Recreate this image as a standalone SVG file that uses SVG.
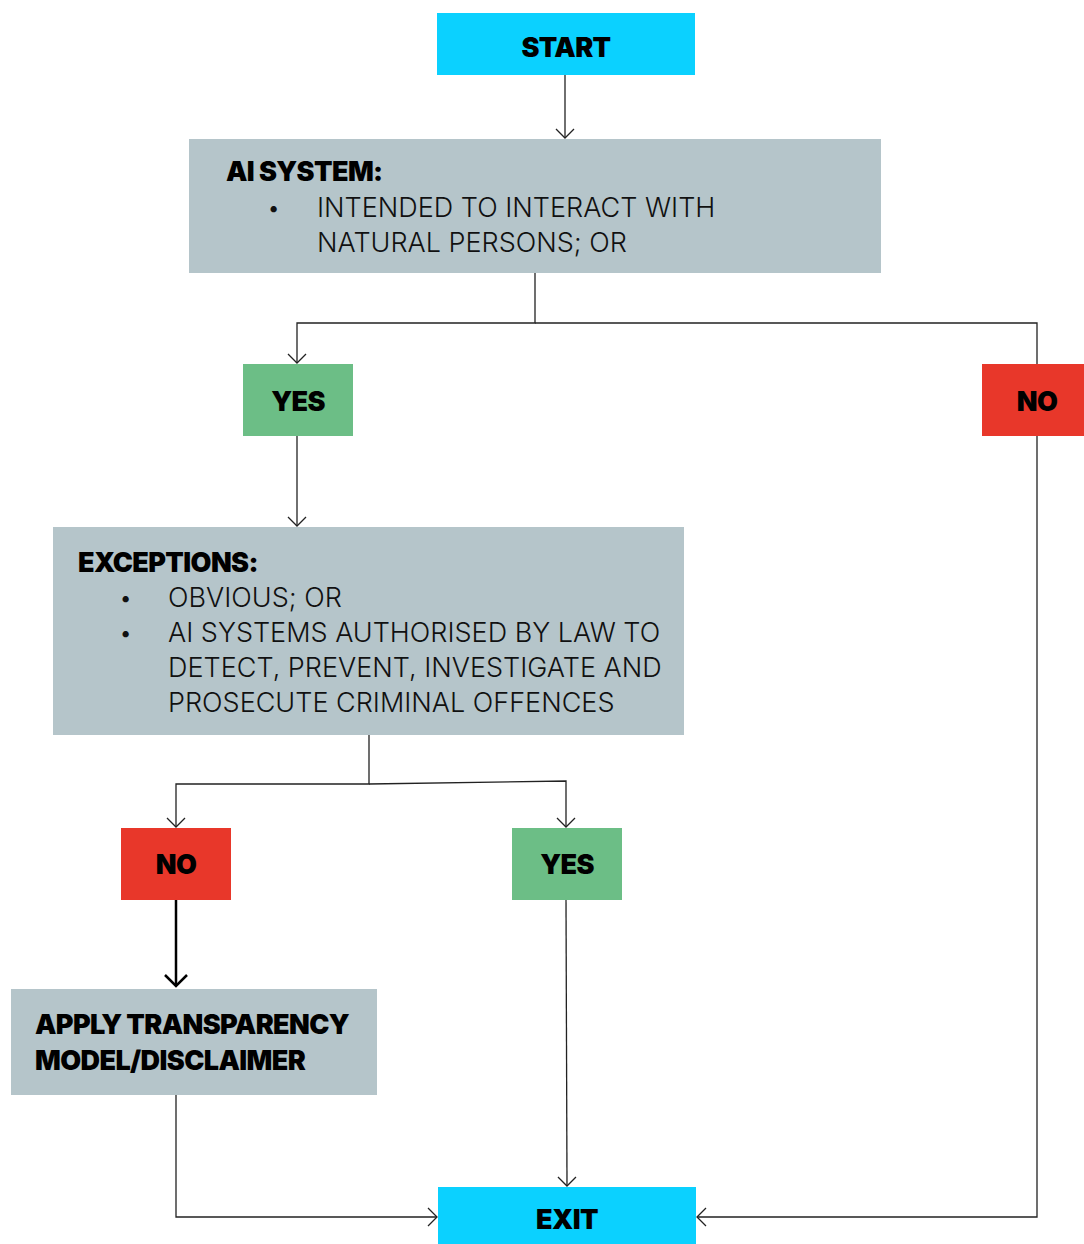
<svg xmlns="http://www.w3.org/2000/svg" width="1084" height="1244" viewBox="0 0 1084 1244">
<style>
.term{fill:#0BD1FF}
.info{fill:#B5C5CA}
.yes{fill:#6CBE86}
.no{fill:#E8372A}
.b{font-family:Inter,"Liberation Sans",sans-serif;font-weight:900;fill:#000;font-size:27px;letter-spacing:-0.6px}
.r{font-family:Inter,"Liberation Sans",sans-serif;font-weight:300;fill:#111;font-size:27px}
.d{font-family:Inter,"Liberation Sans",sans-serif;fill:#111;font-size:20px}
.c{fill:none;stroke:#222;stroke-width:1.3}
.t{fill:none;stroke:#000;stroke-width:2.5}
</style>
<defs>
<marker id="ah" markerWidth="20" markerHeight="20" refX="10" refY="10" orient="auto" markerUnits="userSpaceOnUse">
<path d="M1,1 L10,10 L1,19" fill="none" stroke="#222" stroke-width="1.3"/>
</marker>
<marker id="ahb" markerWidth="26" markerHeight="26" refX="13" refY="13" orient="auto" markerUnits="userSpaceOnUse">
<path d="M2,2 L13,13 L2,24" fill="none" stroke="#000" stroke-width="2.5"/>
</marker>
</defs>
<rect width="1084" height="1244" fill="#fff"/>
<g id="connectors">
<path class="c" d="M565,75 V138" marker-end="url(#ah)"/>
<path class="c" d="M535,273 V323 H297 V363" marker-end="url(#ah)"/>
<path class="c" d="M535,323 H1037 V1217 H697" marker-end="url(#ah)"/>
<path class="c" d="M297,436 V526" marker-end="url(#ah)"/>
<path class="c" d="M369,735 V784 H176 V827" marker-end="url(#ah)"/>
<path class="c" d="M369,784 L566,781 V827" marker-end="url(#ah)"/>
<path class="t" d="M176,900 V986" marker-end="url(#ahb)"/>
<path class="c" d="M566,900 L567,1186" marker-end="url(#ah)"/>
<path class="c" d="M176,1095 V1217 H437" marker-end="url(#ah)"/>
</g>
<g id="start">
<rect class="term" x="437" y="13" width="258" height="62"/>
<text class="b" x="566" y="57" text-anchor="middle">START</text>
</g>
<g id="ai-system">
<rect class="info" x="189" y="139" width="692" height="134"/>
<text class="b" x="226" y="181">AI SYSTEM:</text>
<text class="d" x="268" y="215">•</text>
<text class="r" x="317" y="217">INTENDED TO INTERACT WITH</text>
<text class="r" x="317" y="252">NATURAL PERSONS; OR</text>
</g>
<g id="yes1">
<rect class="yes" x="243" y="364" width="110" height="72"/>
<text class="b" x="298" y="411" text-anchor="middle">YES</text>
</g>
<g id="no1">
<rect class="no" x="982" y="364" width="102" height="72"/>
<text class="b" x="1037" y="411" text-anchor="middle">NO</text>
</g>
<g id="exceptions">
<rect class="info" x="53" y="527" width="631" height="208"/>
<text class="b" x="78" y="572">EXCEPTIONS:</text>
<text class="d" x="120" y="605">•</text>
<text class="r" x="168" y="607">OBVIOUS; OR</text>
<text class="d" x="120" y="640">•</text>
<text class="r" x="168" y="642">AI SYSTEMS AUTHORISED BY LAW TO</text>
<text class="r" x="168" y="677">DETECT, PREVENT, INVESTIGATE AND</text>
<text class="r" x="168" y="712">PROSECUTE CRIMINAL OFFENCES</text>
</g>
<g id="no2">
<rect class="no" x="121" y="828" width="110" height="72"/>
<text class="b" x="176" y="874" text-anchor="middle">NO</text>
</g>
<g id="yes2">
<rect class="yes" x="512" y="828" width="110" height="72"/>
<text class="b" x="567" y="874" text-anchor="middle">YES</text>
</g>
<g id="apply">
<rect class="info" x="11" y="989" width="366" height="106"/>
<text class="b" x="35" y="1034">APPLY TRANSPARENCY</text>
<text class="b" x="35" y="1070">MODEL/DISCLAIMER</text>
</g>
<g id="exit">
<rect class="term" x="438" y="1187" width="258" height="57"/>
<text class="b" x="567" y="1229" text-anchor="middle">EXIT</text>
</g>
</svg>
